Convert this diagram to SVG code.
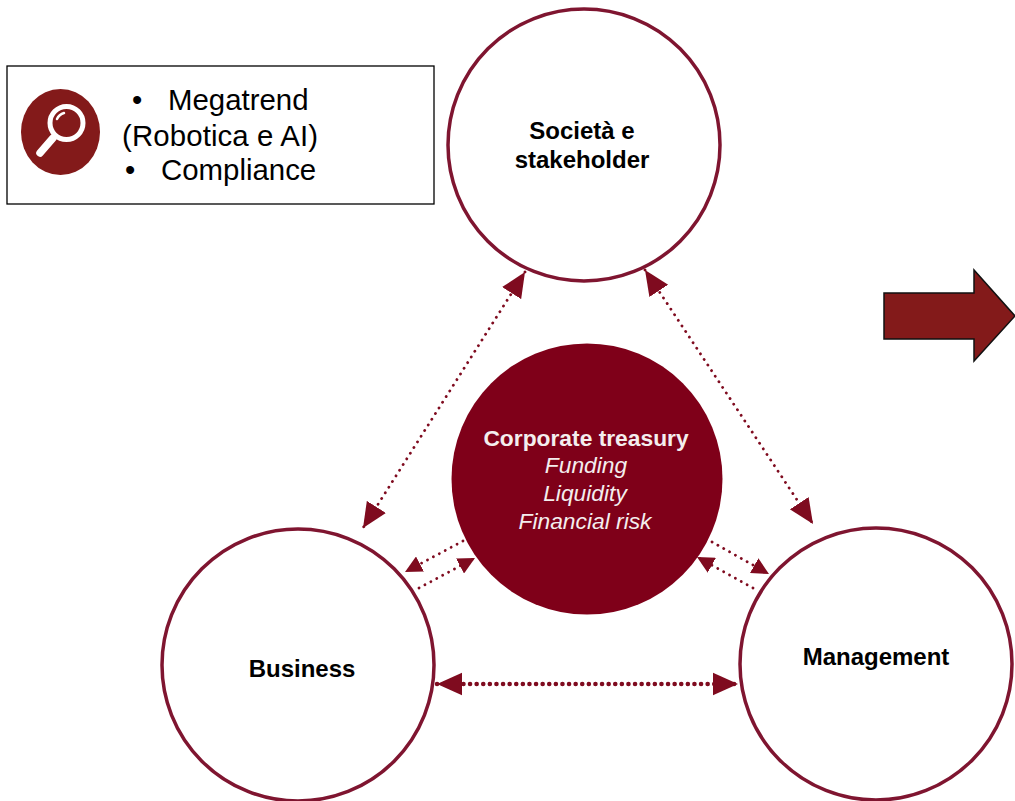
<svg xmlns="http://www.w3.org/2000/svg" width="1015" height="801" viewBox="0 0 1015 801">
<defs>
<marker id="ah" viewBox="0 0 10 10" refX="10" refY="5" markerWidth="25" markerHeight="25" markerUnits="userSpaceOnUse" orient="auto-start-reverse"><path d="M0 0.5 L10 5 L0 9.500 Z" fill="#7f0b1f"/></marker>
<marker id="as" viewBox="0 0 10 10" refX="10" refY="5" markerWidth="17" markerHeight="17" markerUnits="userSpaceOnUse" orient="auto-start-reverse"><path d="M0 0 L10 5 L0 10 Z" fill="#7f0b1f"/></marker>
</defs>
<style>
text{font-family:"Liberation Sans",Arial,sans-serif}
.ring{fill:#fff;stroke:#7f1530;stroke-width:3.500}
.b{font-size:24px;font-weight:700;fill:#000;text-anchor:middle}
.l{font-size:29.400px;fill:#000}
.w{font-size:22.800px;fill:#f4eeee;text-anchor:middle}
.i{font-style:italic}
.c{fill:none;stroke:#7f0b1f;stroke-width:2.800;stroke-linecap:round;stroke-dasharray:.1 6.600}
.t{stroke-width:4.500;stroke-dasharray:.1 6.500}
</style>
<rect width="1015" height="801" fill="#fff"/>
<g id="connectors">
<path class="c" d="M525 272L363 528" marker-start="url(#ah)" marker-end="url(#ah)"/>
<path class="c" d="M645 270L813 524" marker-start="url(#ah)" marker-end="url(#ah)"/>
<path class="c t" d="M437 684L738 684" marker-start="url(#ah)" marker-end="url(#ah)"/>
<path class="c" d="M463 541L405 572" marker-end="url(#as)"/>
<path class="c" d="M419 588L475 558" marker-end="url(#as)"/>
<path class="c" d="M712 542L769 574" marker-end="url(#as)"/>
<path class="c" d="M753 588L697 557" marker-end="url(#as)"/>
</g>
<g id="legend">
<rect x="7" y="66" width="427" height="138" fill="#fff" stroke="#000" stroke-width="1.300"/>
<ellipse cx="60.500" cy="132" rx="39.500" ry="43" fill="#831a1a"/>
<circle cx="66.500" cy="123" r="16.500" fill="none" stroke="#fff" stroke-width="5"/>
<path d="M57 119A11 11 0 0 1 64 113" fill="none" stroke="#fff" stroke-width="2.500" stroke-linecap="round"/>
<path d="M53 138L40 153" fill="none" stroke="#fff" stroke-width="7.500" stroke-linecap="round"/>
<text class="l" x="132" y="110">•</text>
<text class="l" x="168" y="110">Megatrend</text>
<text class="l" x="122" y="146" textLength="196">(Robotica e AI)</text>
<text class="l" x="125" y="180">•</text>
<text class="l" x="161" y="180">Compliance</text>
</g>
<g id="societa">
<circle class="ring" cx="584" cy="145" r="136"/>
<text class="b" x="582" y="139">Società e</text>
<text class="b" x="582" y="168">stakeholder</text>
</g>
<g id="treasury">
<circle cx="587" cy="479" r="135.500" fill="#7f0019"/>
<text class="w" x="586" y="446" font-weight="700">Corporate treasury</text>
<text class="w i" x="586" y="473">Funding</text>
<text class="w i" x="585" y="501">Liquidity</text>
<text class="w i" x="585" y="529">Financial risk</text>
</g>
<g id="business">
<circle class="ring" cx="298" cy="665" r="136"/>
<text class="b" x="302" y="677">Business</text>
</g>
<g id="management">
<circle class="ring" cx="876" cy="664" r="136"/>
<text class="b" x="876" y="665">Management</text>
</g>
<g id="arrow">
<path d="M884 293H974V270L1015 316L974 361V339H884Z" fill="#831a1a" stroke="#111" stroke-width="1.500"/>
</g>
</svg>
